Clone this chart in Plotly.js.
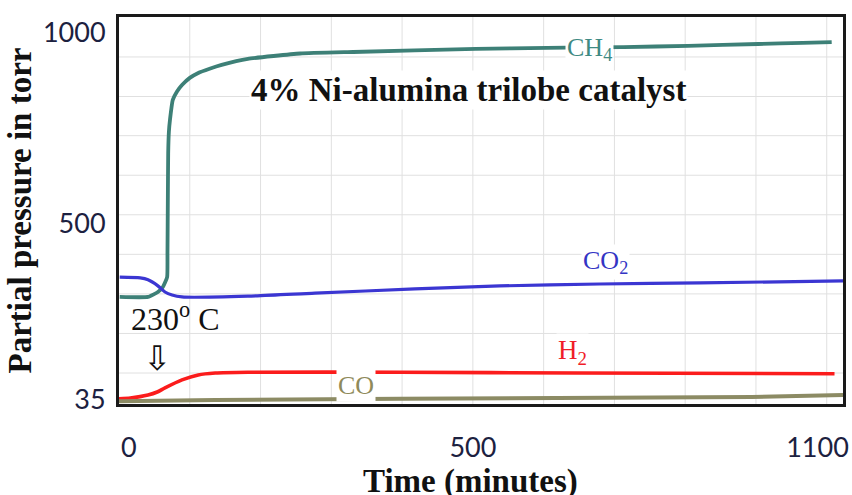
<!DOCTYPE html>
<html>
<head>
<meta charset="utf-8">
<script src="https://cdn.plot.ly/plotly-3.0.1.min.js"></script>
<style>
  html, body { margin: 0; padding: 0; background: #ffffff; }
  #chart { width: 852px; height: 495px; }
</style>
</head>
<body>
<div id="chart"></div>
<script>
// ---- data (time axis units, partial pressure in torr) ----
const ch4Time = [1, 41, 55, 62, 68, 68.5, 69, 69.5, 70.5, 72, 76, 82, 89, 100, 112, 128, 145, 182, 256, 331, 504, 605, 713, 804, 903, 966, 1007];
const ch4P    = [306, 306, 319, 332, 358, 422, 561, 684, 740, 771, 824, 846, 863, 882, 895, 906, 916, 932, 946, 950, 958, 961, 963, 966, 971, 974, 976];

const co2Time = [1, 30, 41, 55, 65, 75, 89, 182, 277, 418, 538, 679, 821, 1023];
const co2P    = [358, 356, 351, 335, 319, 311, 306, 308, 316, 327, 335, 340, 343, 348];

const h2Time = [0, 16, 41, 54, 65, 89, 112, 136, 182, 397, 648, 1011];
const h2P    = [38, 40, 48, 56, 67, 88, 101, 106, 108, 108, 106, 104];

const coTime = [0, 136, 397, 623, 894, 1023];
const coP    = [32, 35, 38, 40, 43, 48];

const xTickVals = [14, 500, 987];
const xTickText = ['0', '500', '1100'];
const yTickVals = [35, 500, 1000];
const yTickText = ['35', '500', '1000'];

const xGrid = [100, 200, 300, 400, 500, 600, 700, 800, 900, 1000];
const yGrid = [106, 210, 314, 418, 522, 626, 730, 833, 937];

// ---- styling ----
const serif = 'Liberation Serif, Times New Roman, serif';
const tickFont = { family: 'Lato, Liberation Sans, sans-serif', size: 27, color: '#1c2140' };

const traces = [
  { name: 'CH4', x: ch4Time, y: ch4P, mode: 'lines', line: { color: '#3d8077', width: 3.8, shape: 'spline', smoothing: 0.4 } },
  { name: 'CO2', x: co2Time, y: co2P, mode: 'lines', line: { color: '#3b36d2', width: 3.2, shape: 'spline', smoothing: 0.6 } },
  { name: 'H2',  x: h2Time,  y: h2P,  mode: 'lines', line: { color: '#fb1c1c', width: 3.6, shape: 'spline', smoothing: 0.6 } },
  { name: 'CO',  x: coTime,  y: coP,  mode: 'lines', line: { color: '#8c8b64', width: 4 } }
];

const shapes = [];
xGrid.forEach(v => shapes.push({ type: 'line', xref: 'x', yref: 'paper', x0: v, x1: v, y0: 0, y1: 1, layer: 'below', line: { color: '#e0e0e0', width: 1 } }));
yGrid.forEach(v => shapes.push({ type: 'line', xref: 'paper', yref: 'y', x0: 0, x1: 1, y0: v, y1: v, layer: 'below', line: { color: '#e0e0e0', width: 1 } }));

const annotations = [
  { text: '<b>4% Ni-alumina trilobe catalyst</b>', x: 494, y: 850, xref: 'x', yref: 'y', showarrow: false,
    font: { family: serif, size: 33, color: '#111111' }, bgcolor: '#ffffff' },
  { text: 'CH<sub>4</sub>', x: 665, y: 958, xref: 'x', yref: 'y', showarrow: false,
    font: { family: serif, size: 26, color: '#3f8a83' }, bgcolor: '#ffffff' },
  { text: 'CO<sub>2</sub>', x: 688, y: 398, xref: 'x', yref: 'y', showarrow: false,
    font: { family: serif, size: 26, color: '#3434c4' }, bgcolor: '#ffffff' },
  { text: 'H<sub>2</sub>', x: 641, y: 161, xref: 'x', yref: 'y', showarrow: false,
    font: { family: serif, size: 27, color: '#f01c28' }, bgcolor: '#ffffff' },
  { text: 'CO', x: 335, y: 74, xref: 'x', yref: 'y', showarrow: false,
    font: { family: serif, size: 26, color: '#8f8a5a' }, bgcolor: '#ffffff' },
  { text: '230<sup>o</sup>&nbsp;C', x: 80, y: 253, xref: 'x', yref: 'y', showarrow: false,
    font: { family: serif, size: 32, color: '#111111' } },
  { text: '\u21E9', x: 54, y: 146, xref: 'x', yref: 'y', showarrow: false,
    font: { family: 'DejaVu Sans, sans-serif', size: 34, color: '#111111' } },
  // x-axis title, placed where the reference draws it
  { text: '<b>Time (minutes)</b>', x: 497, y: -0.147, xref: 'x', yref: 'paper', xanchor: 'center', yanchor: 'top',
    showarrow: false, font: { family: serif, size: 33, color: '#111111' } }
];

const layout = {
  width: 852, height: 495,
  margin: { l: 119, r: 9, t: 17, b: 91, pad: 0 },
  paper_bgcolor: '#ffffff', plot_bgcolor: '#ffffff',
  showlegend: false,
  xaxis: {
    range: [0, 1023], showgrid: false, zeroline: false,
    tickmode: 'array', tickvals: xTickVals, ticktext: xTickText,
    ticks: '', tickfont: tickFont, ticklabelstandoff: 18,
    showline: true, mirror: true, linecolor: '#1a1a1a', linewidth: 3
  },
  yaxis: {
    range: [24.5, 1042], showgrid: false, zeroline: false,
    tickmode: 'array', tickvals: yTickVals, ticktext: yTickText,
    ticks: '', tickfont: tickFont, ticklabelstandoff: 5,
    showline: true, mirror: true, linecolor: '#1a1a1a', linewidth: 3,
    title: { text: '<b>Partial pressure in torr</b>', font: { family: serif, size: 33, color: '#111111' }, standoff: 2 }
  },
  shapes: shapes,
  annotations: annotations
};

Plotly.newPlot('chart', traces, layout, { displayModeBar: false, staticPlot: true });
</script>
</body>
</html>
